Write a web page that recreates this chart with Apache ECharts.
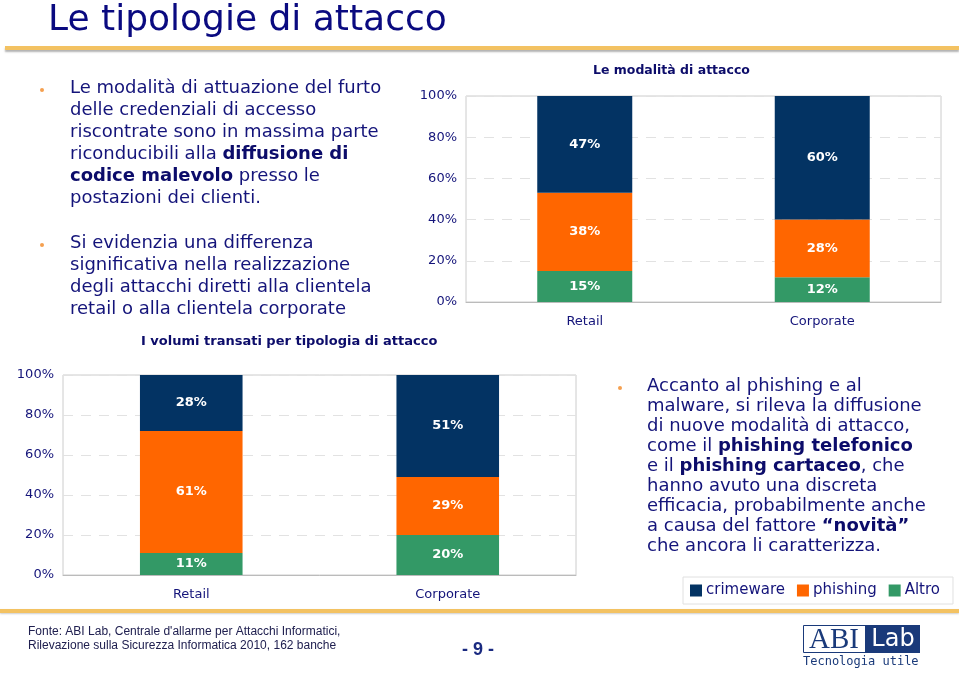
<!DOCTYPE html>
<html>
<head>
<meta charset="utf-8">
<script src="https://cdn.jsdelivr.net/npm/echarts@6/dist/echarts.min.js"></script>
<style>html,body{margin:0;padding:0;background:#fff;}#c{width:959px;height:674px;}</style>
</head>
<body>
<div id="c"></div>
<script>
const categories = ['Retail', 'Corporate'];
const seriesNames = ['crimeware', 'phishing', 'Altro'];
const modalitaCrimeware = [47, 60];
const modalitaPhishing = [38, 28];
const modalitaAltro = [15, 12];
const volumiCrimeware = [28, 51];
const volumiPhishing = [61, 29];
const volumiAltro = [11, 20];
const colors = { crimeware: '#033363', phishing: '#FF6600', Altro: '#339966' };

const NAVY = '#14147a';
const FONT = 'DejaVu Sans';

function seg(name, data, xi, stack) {
  return {
    name: name, type: 'bar', stack: stack, data: data,
    xAxisIndex: xi, yAxisIndex: xi, barWidth: '40%',
    itemStyle: { color: colors[name] },
    label: { show: true, position: 'inside', formatter: '{c}%', color: '#fff',
             fontFamily: FONT, fontSize: 13, fontWeight: 'bold' }
  };
}

function line(x, y, parts, size) {
  let txt = parts.map(p => p[1] ? '{b|' + p[0] + '}' : '{n|' + p[0] + '}').join('');
  return { type: 'text', left: x, top: y - size * 0.62,
    style: { text: txt, rich: {
      n: { fontFamily: FONT, fontSize: size, fill: NAVY, color: NAVY },
      b: { fontFamily: FONT, fontSize: size, fontWeight: 'bold', fill: '#0c0c6a', color: '#0c0c6a' } } } };
}

const left1 = [
  [[ 'Le modalità di attuazione del furto' ]],
  [[ 'delle credenziali di accesso' ]],
  [[ 'riscontrate sono in massima parte' ]],
  [[ 'riconducibili alla ' ], [ 'diffusione di', 1 ]],
  [[ 'codice malevolo', 1 ], [ ' presso le' ]],
  [[ 'postazioni dei clienti.' ]]
];
const left2 = [
  [[ 'Si evidenzia una differenza' ]],
  [[ 'significativa nella realizzazione' ]],
  [[ 'degli attacchi diretti alla clientela' ]],
  [[ 'retail o alla clientela corporate' ]]
];
const right1 = [
  [[ 'Accanto al phishing e al' ]],
  [[ 'malware, si rileva la diffusione' ]],
  [[ 'di nuove modalità di attacco,' ]],
  [[ 'come il ' ], [ 'phishing telefonico', 1 ]],
  [[ 'e il ' ], [ 'phishing cartaceo', 1 ], [ ', che' ]],
  [[ 'hanno avuto una discreta' ]],
  [[ 'efficacia, probabilmente anche' ]],
  [[ 'a causa del fattore ' ], [ '“novità”', 1 ]],
  [[ 'che ancora li caratterizza.' ]]
];

const graphics = [];
// title
graphics.push({ type: 'text', left: 48, top: 3,
  style: { text: 'Le tipologie di attacco', fontFamily: FONT, fontSize: 36,
    fill: '#0a0a80', shadowColor: 'rgba(0,0,0,0.35)', shadowOffsetX: 2, shadowOffsetY: 2, shadowBlur: 2 } });
// gold lines
graphics.push({ type: 'rect', shape: { x: 5, y: 46, width: 954, height: 4 },
  style: { fill: '#f3c262', shadowColor: 'rgba(0,0,0,0.3)', shadowOffsetY: 2, shadowBlur: 2 } });
graphics.push({ type: 'rect', shape: { x: 0, y: 609, width: 959, height: 4 },
  style: { fill: '#f3c262', shadowColor: 'rgba(0,0,0,0.2)', shadowOffsetY: 1, shadowBlur: 2 } });
// bullets
[[42, 90], [42, 245], [620, 388]].forEach(p => graphics.push({ type: 'circle',
  shape: { cx: p[0], cy: p[1], r: 2 }, style: { fill: '#f5a050' } }));
left1.forEach((l, i) => graphics.push(line(70, 90 + i * 22, l, 18)));
left2.forEach((l, i) => graphics.push(line(70, 245 + i * 22, l, 18)));
right1.forEach((l, i) => graphics.push(line(647, 388 + i * 20, l, 18)));
// chart titles
graphics.push({ type: 'text', left: 593, top: 64, style: { text: 'Le modalità di attacco',
  fontFamily: FONT, fontSize: 12.5, fontWeight: 'bold', fill: '#0c0c6a' } });
graphics.push({ type: 'text', left: 141, top: 335, style: { text: 'I volumi transati per tipologia di attacco',
  fontFamily: FONT, fontSize: 13, fontWeight: 'bold', fill: '#0c0c6a' } });
// footer
graphics.push({ type: 'text', left: 28, top: 625, style: {
  text: "Fonte: ABI Lab, Centrale d'allarme per Attacchi Informatici,\nRilevazione sulla Sicurezza Informatica 2010, 162 banche",
  fontFamily: 'Liberation Sans', fontSize: 12, lineHeight: 14, fill: '#202050' } });
graphics.push({ type: 'text', left: 462, top: 641, style: { text: '- 9 -',
  fontFamily: 'Liberation Sans', fontSize: 18, fontWeight: 'bold', fill: '#1a2a80' } });
// logo
graphics.push({ type: 'rect', shape: { x: 803.5, y: 625.5, width: 62, height: 27 },
  style: { fill: '#fff', stroke: '#1a3a7a', lineWidth: 1 } });
graphics.push({ type: 'text', x: 834, y: 640, style: { text: 'ABI', align: 'center', verticalAlign: 'middle',
  fontFamily: 'Liberation Serif', fontSize: 29, fill: '#1a3a7a' } });
graphics.push({ type: 'rect', shape: { x: 865, y: 625, width: 55, height: 28 },
  style: { fill: '#1a3a7a' } });
graphics.push({ type: 'text', x: 893, y: 640, style: { text: 'Lab', align: 'center', verticalAlign: 'middle',
  fontFamily: 'DejaVu Sans', fontSize: 24, fill: '#fff' } });
graphics.push({ type: 'text', left: 803, top: 656, style: { text: 'Tecnologia utile',
  fontFamily: 'DejaVu Sans Mono', fontSize: 12, fill: '#1a3a7a' } });

function yAx(gi) {
  return { type: 'value', gridIndex: gi, min: 0, max: 100, interval: 20,
    axisLabel: { formatter: '{value}%', color: '#14147a', fontFamily: FONT, fontSize: 13, margin: 9 },
    axisLine: { show: false }, axisTick: { show: false },
    splitLine: { lineStyle: { color: '#e2e2e2', type: [10, 8] } } };
}
function xAx(gi) {
  return { type: 'category', gridIndex: gi, data: categories,
    axisLabel: { color: '#14147a', fontFamily: FONT, fontSize: 13, margin: 13 },
    axisLine: { lineStyle: { color: '#bbbbbb' } }, axisTick: { show: false } };
}

const chart = echarts.init(document.getElementById('c'), null, { renderer: 'canvas' });
chart.setOption({
  backgroundColor: '#fff',
  animation: false,
  grid: [
    { left: 466, top: 96, width: 475, height: 206, show: true, borderColor: '#cccccc', borderWidth: 1 },
    { left: 63, top: 375, width: 513, height: 200, show: true, borderColor: '#cccccc', borderWidth: 1 }
  ],
  xAxis: [xAx(0), xAx(1)],
  yAxis: [yAx(0), yAx(1)],
  legend: { data: seriesNames, left: 683, top: 577, padding: [6, 13, 6, 7],
    borderColor: '#e0e0e0', borderWidth: 1, icon: 'rect', itemWidth: 12, itemHeight: 12, itemGap: 12,
    textStyle: { color: '#14147a', fontFamily: FONT, fontSize: 15, padding: [0, 0, 0, -1] } },
  series: [
    seg('Altro', modalitaAltro, 0, 'a'),
    seg('phishing', modalitaPhishing, 0, 'a'),
    seg('crimeware', modalitaCrimeware, 0, 'a'),
    seg('Altro', volumiAltro, 1, 'b'),
    seg('phishing', volumiPhishing, 1, 'b'),
    seg('crimeware', volumiCrimeware, 1, 'b')
  ],
  graphic: graphics
});
</script>
</body>
</html>
